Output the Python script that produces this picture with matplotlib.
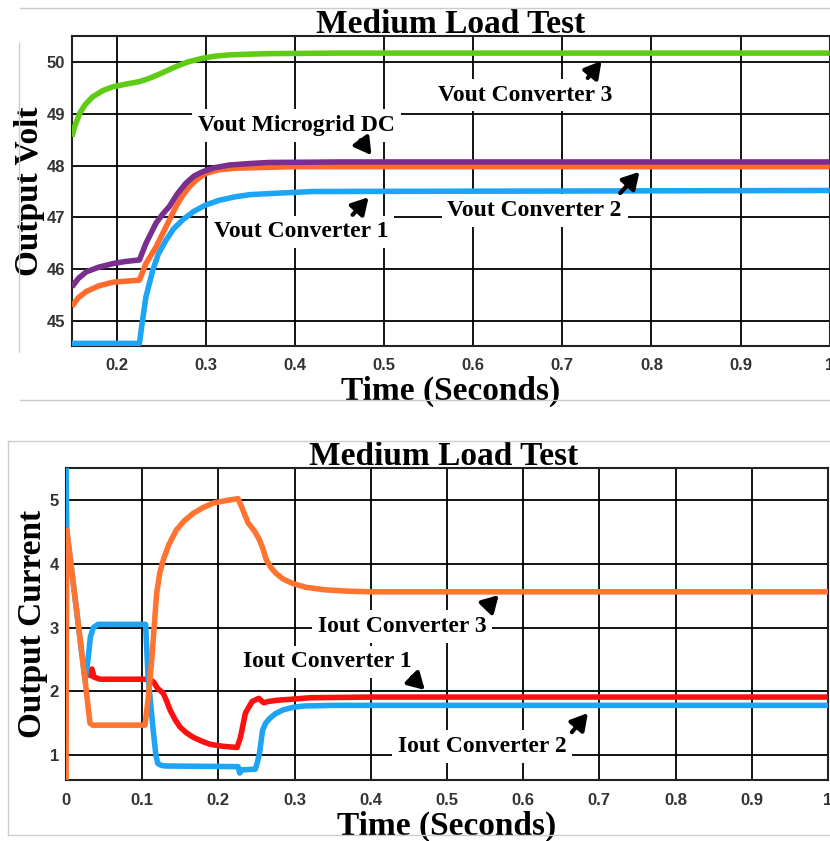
import matplotlib
matplotlib.use("Agg")
import matplotlib.pyplot as plt
from matplotlib.lines import Line2D


# ---- top panel: output voltages ----
t_v3 = [0.15, 0.153, 0.1587, 0.165, 0.1735, 0.185, 0.196, 0.21, 0.2257, 0.233, 0.2406, 0.25,
        0.2667, 0.28, 0.2964, 0.31, 0.3262, 0.35, 0.371, 0.45, 1.0]
v_conv3 = [48.56, 48.75, 49.01, 49.18, 49.33, 49.45, 49.52, 49.57, 49.62, 49.66, 49.71, 49.78,
           49.91, 50.0, 50.07, 50.11, 50.135, 50.15, 50.16, 50.17, 50.17]

t_vdc = [0.15, 0.157, 0.166, 0.18, 0.196, 0.21, 0.2257, 0.233, 0.2443, 0.252, 0.2592, 0.268,
         0.2778, 0.287, 0.2964, 0.31, 0.3262, 0.35, 0.371, 0.45, 1.0]
v_dc = [45.66, 45.82, 45.95, 46.04, 46.11, 46.15, 46.18, 46.5, 46.89, 47.07, 47.21, 47.45,
        47.66, 47.8, 47.88, 47.96, 48.01, 48.04, 48.06, 48.07, 48.07]

t_v2 = [0.15, 0.157, 0.166, 0.18, 0.196, 0.21, 0.2257, 0.233, 0.2443, 0.2555, 0.2667, 0.274,
        0.2816, 0.29, 0.3, 0.315, 0.3336, 0.4, 1.0]
v_conv2 = [45.28, 45.45, 45.57, 45.68, 45.75, 45.77, 45.79, 46.11, 46.43, 46.82, 47.21, 47.42,
           47.59, 47.73, 47.85, 47.92, 47.95, 47.98, 47.98]

t_v1 = [0.15, 0.2257, 0.2287, 0.233, 0.2406, 0.247, 0.2555, 0.264, 0.274, 0.286, 0.3, 0.315,
        0.3336, 0.35, 0.371, 0.42, 1.0]
v_conv1 = [44.57, 44.57, 44.96, 45.47, 45.98, 46.3, 46.56, 46.78, 46.95, 47.11, 47.24, 47.33,
           47.4, 47.44, 47.46, 47.5, 47.52]

# ---- bottom panel: output currents ----
t_i1 = [0.032, 0.034, 0.037, 0.045, 0.08, 0.11, 0.1155, 0.12, 0.1277, 0.132, 0.1365, 0.143,
        0.1497, 0.158, 0.167, 0.178, 0.189, 0.205, 0.2245, 0.229, 0.2355, 0.2442, 0.253,
        0.2595, 0.265, 0.277, 0.3, 0.321, 0.4, 1.0]
i_conv1 = [2.25, 2.35, 2.22, 2.19, 2.19, 2.19, 2.14, 2.05, 1.97, 1.85, 1.71, 1.56,
           1.44, 1.35, 1.28, 1.22, 1.17, 1.14, 1.12, 1.28, 1.66, 1.84, 1.89,
           1.82, 1.84, 1.86, 1.88, 1.9, 1.91, 1.91]

t_i2 = [0.0, 0.001, 0.025, 0.029, 0.032, 0.036, 0.042, 0.1045, 0.1075, 0.114, 0.118, 0.1205,
        0.125, 0.13, 0.2258, 0.228, 0.231, 0.2484, 0.251, 0.254, 0.258, 0.262, 0.2677, 0.275,
        0.285, 0.298, 0.3123, 0.35, 1.0]
i_conv2 = [5.6, 4.53, 2.18, 2.5, 2.85, 3.0, 3.05, 3.05, 2.28, 1.44, 1.0, 0.87,
           0.84, 0.83, 0.82, 0.72, 0.77, 0.78, 0.88, 1.03, 1.39, 1.5, 1.58, 1.65,
           1.71, 1.75, 1.77, 1.78, 1.78]

t_i3 = [0.0, 0.001, 0.025, 0.0315, 0.035, 0.1037, 0.108, 0.1125, 0.116, 0.119, 0.123, 0.1277,
        0.135, 0.145, 0.155, 0.167, 0.18, 0.193, 0.21, 0.2258, 0.2302, 0.239, 0.2476, 0.254,
        0.258, 0.263, 0.269, 0.2756, 0.285, 0.2975, 0.315, 0.341, 0.37, 0.4, 1.0]
i_conv3 = [0.6, 4.53, 2.18, 1.5, 1.47, 1.47, 1.9, 2.49, 3.05, 3.54, 3.85, 4.06,
           4.3, 4.53, 4.67, 4.79, 4.88, 4.95, 4.99, 5.02, 4.9, 4.64, 4.51, 4.37,
           4.25, 4.06, 3.94, 3.85, 3.76, 3.69, 3.63, 3.59, 3.57, 3.56, 3.56]

v_ticks = [45, 46, 47, 48, 49, 50]
v_xticks = [0.2, 0.3, 0.4, 0.5, 0.6, 0.7, 0.8, 0.9, 1.0]
v_xticklabels = ["0.2", "0.3", "0.4", "0.5", "0.6", "0.7", "0.8", "0.9", "1"]
i_ticks = [1, 2, 3, 4, 5]
i_xticks = [0, 0.1, 0.2, 0.3, 0.4, 0.5, 0.6, 0.7, 0.8, 0.9, 1.0]
i_xticklabels = ["0", "0.1", "0.2", "0.3", "0.4", "0.5", "0.6", "0.7", "0.8", "0.9", "1"]

GREEN = "#5fcc14"
PURPLE = "#7a2e8e"
ORANGE = "#ff6b2c"
BLUE = "#1ea4f5"
RED = "#ff1010"
ORANGE2 = "#ff7430"

SERIF = ["Liberation Serif", "DejaVu Serif"]
SANS = ["Liberation Sans", "DejaVu Sans"]


def style_axes(ax, xticks, xlabels, yticks):
    ax.set_xticks(xticks)
    ax.set_xticklabels(xlabels)
    ax.set_yticks(yticks)
    ax.grid(True, color="black", linewidth=1.3)
    ax.set_axisbelow(True)
    ax.tick_params(length=0, labelsize=12, labelcolor="#333333")
    ax.tick_params(axis="x", pad=9)
    ax.tick_params(axis="y", pad=5)
    for lab in ax.get_xticklabels() + ax.get_yticklabels():
        lab.set_family(SANS)
        lab.set_fontweight("bold")
    for side in ["top", "left", "bottom", "right"]:
        ax.spines[side].set_linewidth(1.5)
        ax.spines[side].set_color("#222222")


def title(ax, x, txt):
    ax.text(x, 1.01, txt, transform=ax.transAxes, family=SERIF, fontweight="bold",
            fontsize=24, ha="center", va="baseline")


def label(ax, x, y, txt):
    ax.text(x, y, txt, family=SERIF, fontweight="bold", fontsize=17,
            ha="center", va="center", zorder=5,
            bbox=dict(boxstyle="square,pad=0.25", fc="white", ec="none"))


def arrow(ax, tail, head):
    ax.annotate("", xy=head, xytext=tail, zorder=6,
                arrowprops=dict(arrowstyle="-|>,head_width=0.4,head_length=0.7",
                                lw=3, color="black", shrinkA=0, shrinkB=0,
                                mutation_scale=14))


fig = plt.figure(figsize=(8.3, 8.41), dpi=100)

# ---------- top ----------
ax1 = fig.add_axes([0.0867, 0.5886, 0.913, 0.3686])
ax1.plot(t_v3, v_conv3, color=GREEN, lw=4, solid_capstyle="butt", zorder=3)
ax1.plot(t_v1, v_conv1, color=BLUE, lw=4, solid_capstyle="butt", zorder=3)
ax1.plot(t_v2, v_conv2, color=ORANGE, lw=4, solid_capstyle="butt", zorder=3)
ax1.plot(t_vdc, v_dc, color=PURPLE, lw=4, solid_capstyle="butt", zorder=3)
ax1.set_xlim(0.15, 1.0)
ax1.set_ylim(44.52, 50.5)
style_axes(ax1, v_xticks, v_xticklabels, v_ticks)
title(ax1, 0.5, "Medium Load Test")
ax1.set_xlabel("Time (Seconds)", family=SERIF, fontweight="bold", fontsize=24, labelpad=2)
ax1.set_ylabel("Output Volt", family=SERIF, fontweight="bold", fontsize=24, labelpad=1)

label(ax1, 0.658, 49.36, "Vout Converter 3")
label(ax1, 0.402, 48.78, "Vout Microgrid DC")
label(ax1, 0.4067, 46.72, "Vout Converter 1")
label(ax1, 0.669, 47.14, "Vout Converter 2")
arrow(ax1, (0.7285, 49.69), (0.744, 50.02))
arrow(ax1, (0.4737, 48.49), (0.486, 48.2))
arrow(ax1, (0.4648, 47.05), (0.4827, 47.39))
arrow(ax1, (0.765, 47.47), (0.7866, 47.88))

# ---------- bottom ----------
ax2 = fig.add_axes([0.0795, 0.0725, 0.918, 0.371])
ax2.plot(t_i1, i_conv1, color=RED, lw=4, zorder=3)
ax2.plot(t_i2, i_conv2, color=BLUE, lw=4, zorder=3)
ax2.plot(t_i3, i_conv3, color=ORANGE2, lw=4, zorder=3)
ax2.set_xlim(0, 1.0)
ax2.set_ylim(0.61, 5.5)
style_axes(ax2, i_xticks, i_xticklabels, i_ticks)
title(ax2, 0.495, "Medium Load Test")
ax2.set_xlabel("Time (Seconds)", family=SERIF, fontweight="bold", fontsize=24, labelpad=2)
ax2.set_ylabel("Output Current", family=SERIF, fontweight="bold", fontsize=24, labelpad=1)

label(ax2, 0.441, 3.02, "Iout Converter 3")
label(ax2, 0.3425, 2.46, "Iout Converter 1")
label(ax2, 0.546, 1.13, "Iout Converter 2")
arrow(ax2, (0.5525, 3.32), (0.568, 3.51))
arrow(ax2, (0.454, 2.22), (0.471, 2.02))
arrow(ax2, (0.664, 1.36), (0.685, 1.66))

# light grey screenshot frames
W, H = 830.0, 841.0
frame = dict(color="#cccccc", lw=1, transform=fig.transFigure)
for (x0, y0, x1, y1) in [(20, 8, 830, 8), (19, 43, 19, 352), (20, 400, 830, 400),
                         (8, 441, 830, 441), (8, 441, 8, 835), (8, 835, 830, 835)]:
    fig.add_artist(Line2D([x0 / W, x1 / W], [1 - y0 / H, 1 - y1 / H], **frame))

fig.savefig("out.png", dpi=100)
